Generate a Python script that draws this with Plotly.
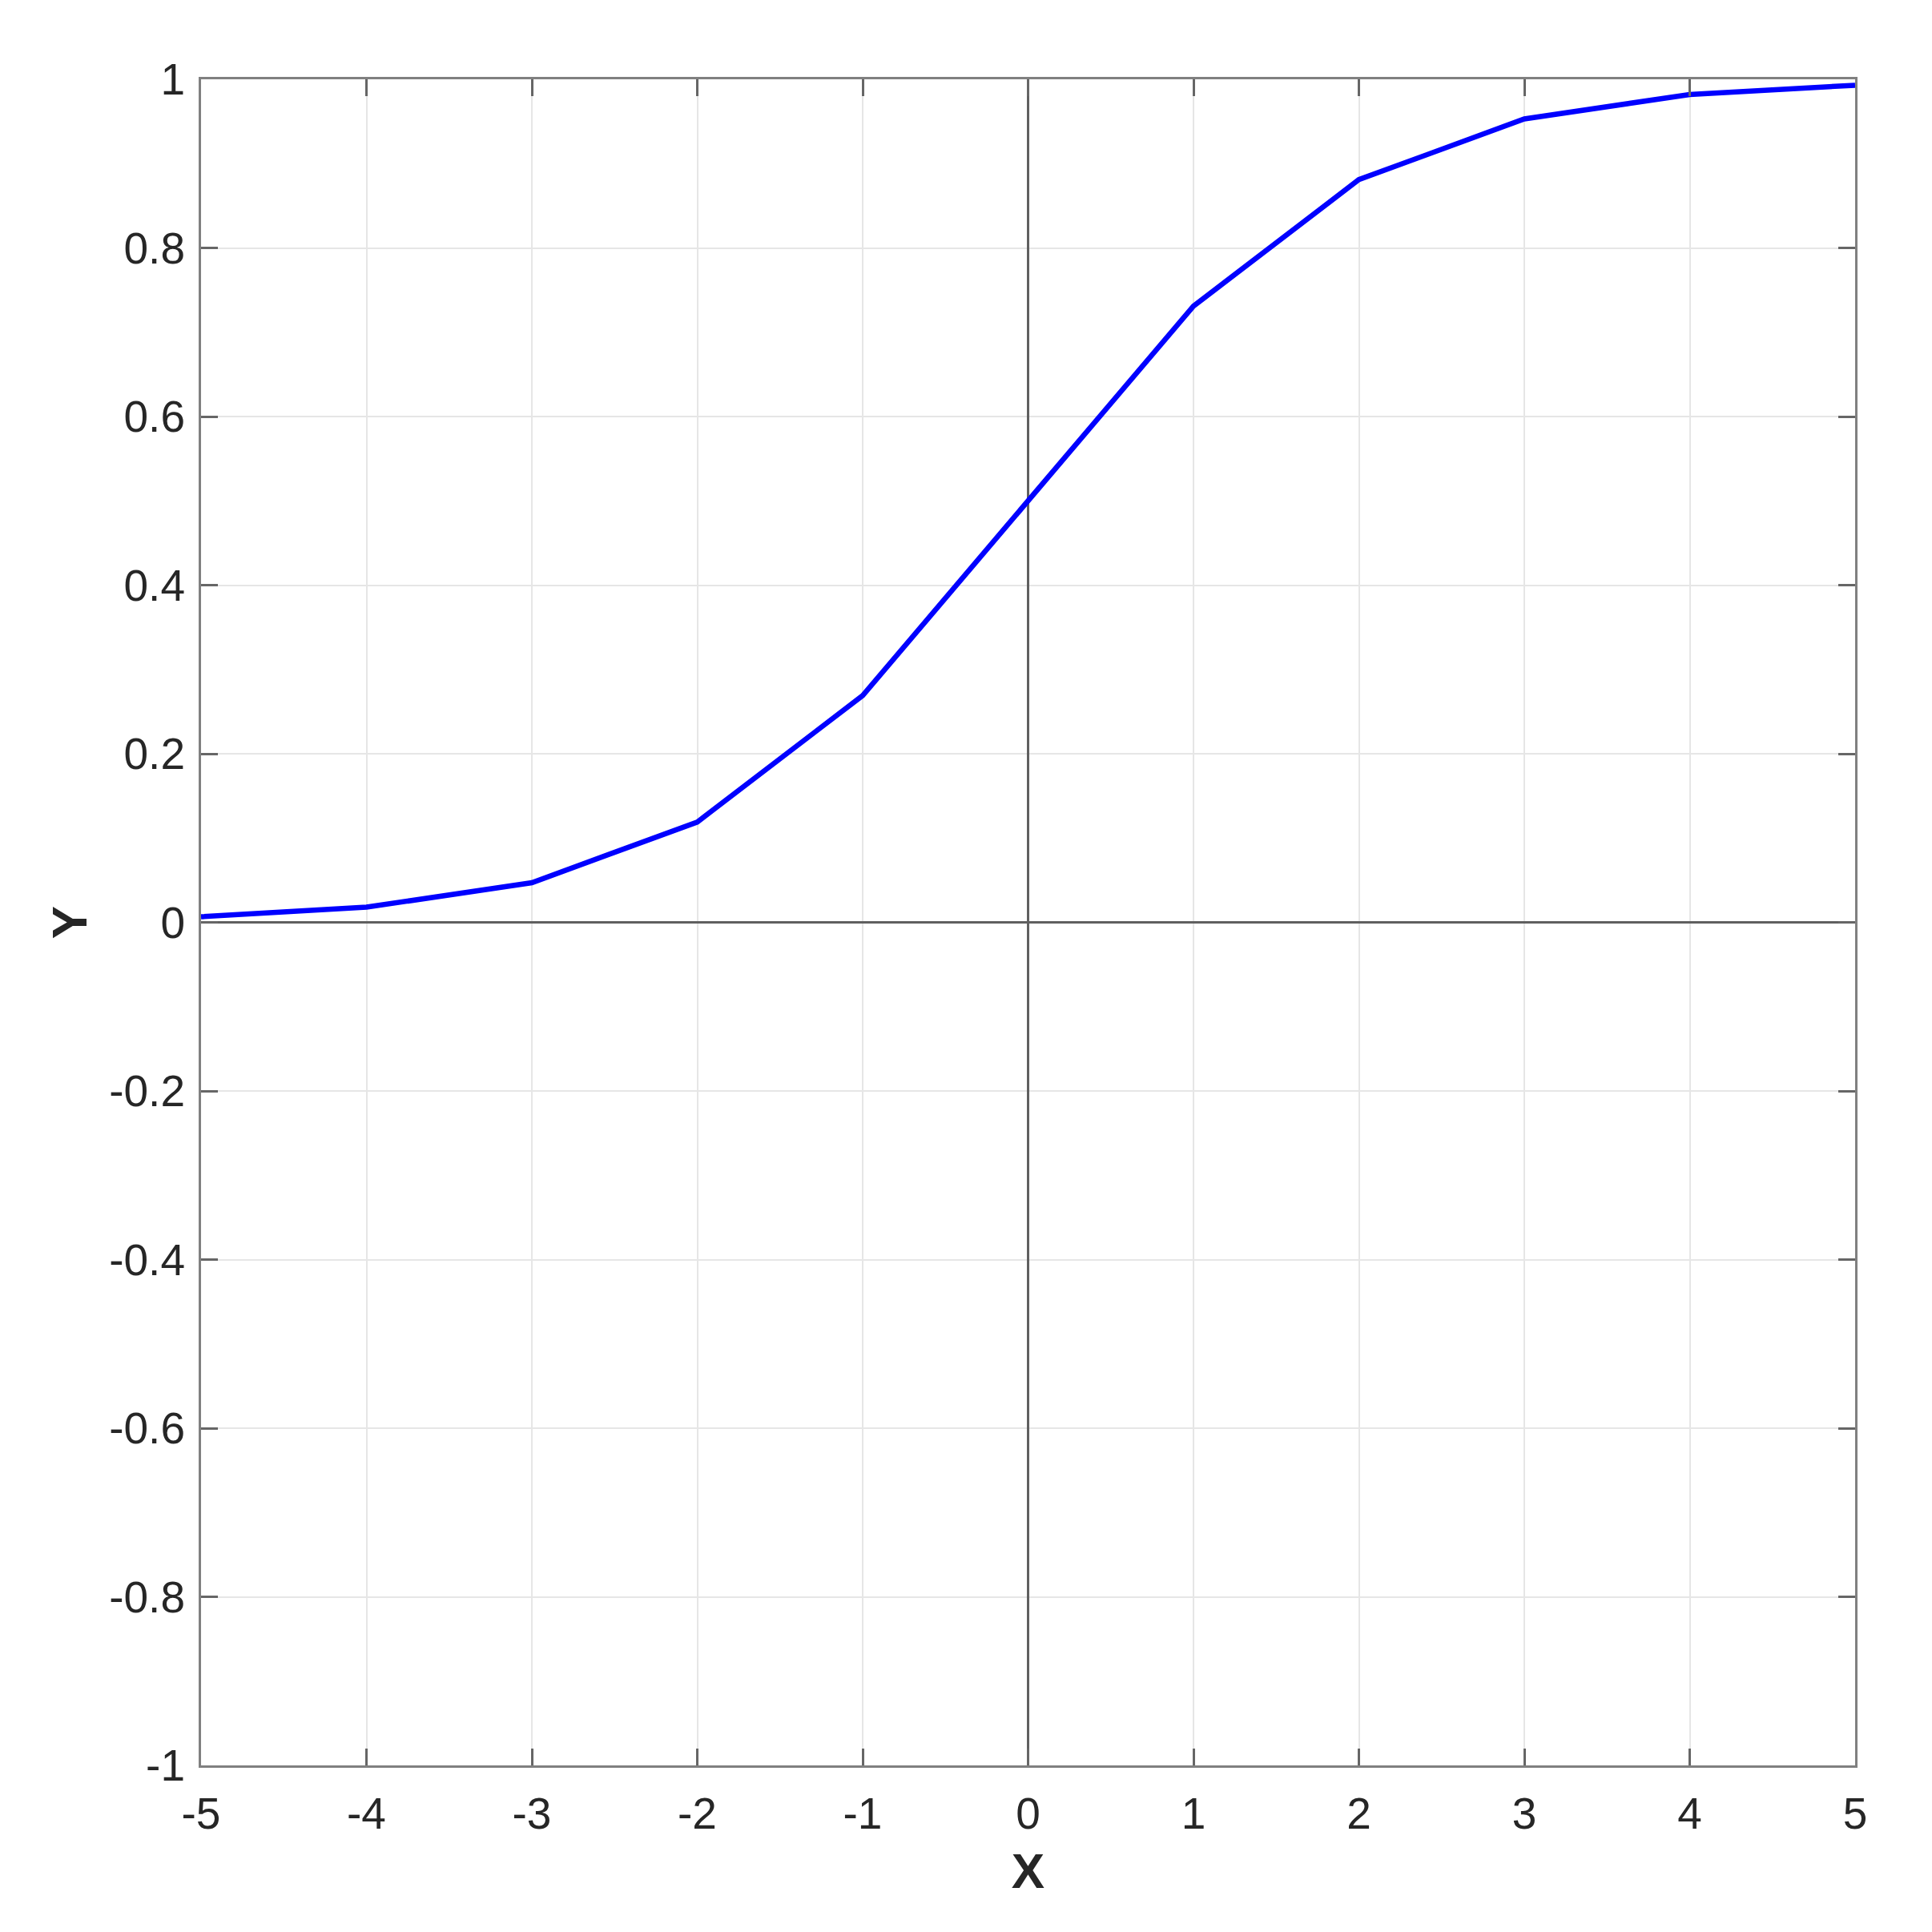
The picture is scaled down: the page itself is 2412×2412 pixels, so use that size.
import plotly.graph_objects as go

x_values = [-5, -4, -3, -2, -1, 0, 1, 2, 3, 4, 5]
y_values = [0.0067, 0.018, 0.047, 0.119, 0.269, 0.5, 0.731, 0.881, 0.953, 0.982, 0.993]
x_ticks = [-5, -4, -3, -2, -1, 0, 1, 2, 3, 4, 5]
y_ticks = [-1, -0.8, -0.6, -0.4, -0.2, 0, 0.2, 0.4, 0.6, 0.8, 1]
x_ticklabels = ["-5", "-4", "-3", "-2", "-1", "0", "1", "2", "3", "4", "5"]
y_ticklabels = ["-1", "-0.8", "-0.6", "-0.4", "-0.2", "0", "0.2", "0.4", "0.6", "0.8", "1"]

FONT = "Liberation Sans, Arial, sans-serif"

fig = go.Figure()
fig.add_trace(go.Scatter(x=x_values, y=y_values, mode="lines",
                         line=dict(color="#0000ff", width=6.5), showlegend=False))

axis_common = dict(
    showline=True, linecolor="#808080", linewidth=3, mirror="ticks",
    ticks="inside", ticklen=21, tickwidth=2.5, tickcolor="#666666",
    showgrid=True, gridcolor="#e6e6e6", gridwidth=1.5,
    zeroline=True, zerolinecolor="#606060", zerolinewidth=3,
    tickfont=dict(family=FONT, size=55, color="#262626"),
)

fig.update_xaxes(range=[-5, 5], tickvals=x_ticks, ticktext=x_ticklabels,
                 title=dict(text="<b>X</b>", font=dict(family=FONT, size=62, color="#262626"), standoff=20),
                 ticklabelstandoff=10, **axis_common)
fig.update_yaxes(range=[-1, 1], tickvals=y_ticks, ticktext=y_ticklabels,
                 title=dict(text="<b>Y</b>", font=dict(family=FONT, size=62, color="#262626"), standoff=8),
                 ticklabelstandoff=6, **axis_common)

fig.update_layout(
    width=2412, height=2412,
    margin=dict(l=243, r=104, t=91, b=216, autoexpand=False),
    paper_bgcolor="white", plot_bgcolor="white",
    font=dict(family=FONT, color="#262626"),
)

fig.write_html("out.html")
